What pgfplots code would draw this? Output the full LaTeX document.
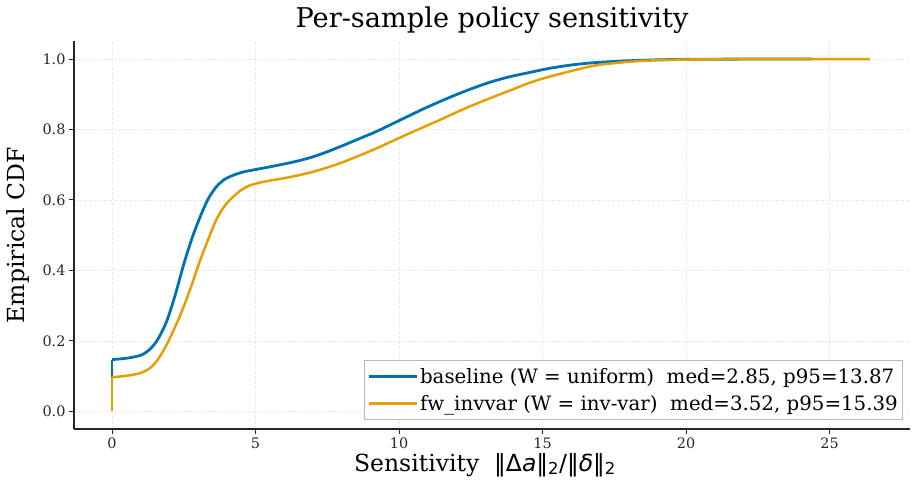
\documentclass[border=0pt]{standalone}
\usepackage{pgfplots}
\pgfplotsset{compat=1.18}
\usepackage{fontspec}
\setmainfont{DejaVu Serif}
\newfontfamily\dvs{DejaVu Sans}
\definecolor{cblue}{HTML}{0072B2}
\definecolor{corange}{HTML}{E69F00}
\definecolor{spine}{HTML}{262626}
\begin{document}
\begin{tikzpicture}
\path[use as bounding box] (0,0) rectangle (912bp,488bp);
\begin{axis}[
  at={(74bp,59bp)}, anchor=south west,
  scale only axis, width=836bp, height=387.6bp,
  xmin=-1.325, xmax=27.8, ymin=-0.05, ymax=1.05,
  axis x line*=bottom, axis y line*=left,
  axis line style={spine, line width=1.1bp, -},
  tick align=outside, major tick length=5bp,
  tick style={spine, line width=1bp},
  xtick={0,5,10,15,20,25}, ytick={0,0.2,0.4,0.6,0.8,1.0},
  /pgf/number format/assume math mode=true,
  yticklabel style={/pgf/number format/fixed, /pgf/number format/fixed zerofill, /pgf/number format/precision=1},
  ticklabel style={font=\fontsize{14.4bp}{16bp}\selectfont, color=spine},
  grid=major, grid style={densely dashed, gray!18, line width=0.7bp},
  title={Per-sample policy sensitivity},
  title style={font=\fontsize{27.2bp}{31bp}\selectfont, yshift=-2bp},
  xlabel={Sensitivity\ \ {\dvs ‖Δ\textit{a}‖\textsubscript{2}/‖\textit{δ}‖\textsubscript{2}}},
  ylabel={Empirical CDF},
  label style={font=\fontsize{23.5bp}{26bp}\selectfont},
  xlabel style={yshift=2bp, xshift=-7bp},
  ylabel style={yshift=6bp},
  legend style={at={(0.992,0.023)}, anchor=south east, draw=gray!55, line width=1bp,
    font=\fontsize{19.8bp}{24bp}\selectfont, inner xsep=3bp, inner ysep=6bp, row sep=6bp,
    cells={anchor=west}, /tikz/every even column/.style={column sep=3bp}},
  legend cell align=left,
  legend image code/.code={\draw[#1] (0bp,0bp) -- (40bp,0bp); \path (0bp,0bp) -- (48bp,0bp);},
]
\addplot[color=cblue, line width=2.8bp, forget plot] coordinates {(0,0) (0,0.147)};
\addplot[color=cblue, line width=2.8bp, smooth, tension=0.5] coordinates {
(0,0.147) (0.3,0.149) (0.6,0.152) (0.9,0.157) (1.1,0.163) (1.34,0.178) (1.6,0.205)
(1.9,0.255) (2.2,0.33) (2.49,0.415) (2.78,0.49) (3.07,0.552) (3.35,0.603) (3.64,0.638)
(3.93,0.659) (4.22,0.670) (4.6,0.680) (5.37,0.692) (6.28,0.707) (6.9,0.720) (7.44,0.735)
(8.0,0.753) (8.59,0.773) (9.2,0.794) (9.74,0.815) (10.3,0.837) (10.89,0.86) (11.5,0.882)
(12.03,0.90) (12.6,0.918) (13.2,0.935) (13.87,0.95) (14.56,0.962) (15.2,0.973) (16.0,0.983)
(16.86,0.990) (18.0,0.995) (19.16,0.998) (20.5,0.9993) (22,0.9998) (23.2,1.0) (24.4,1.0)
};
\addlegendentry{baseline (W = uniform)\ \ med=2.85, p95=13.87}
\addplot[color=corange, line width=2.5bp, forget plot] coordinates {(0,0) (0,0.097)};
\addplot[color=corange, line width=2.5bp, smooth, tension=0.5] coordinates {
(0,0.097) (0.5,0.101) (1.0,0.109) (1.34,0.124) (1.62,0.150) (1.92,0.192) (2.2,0.24)
(2.49,0.296) (2.78,0.36) (3.07,0.429) (3.35,0.488) (3.64,0.545) (3.93,0.584) (4.22,0.609)
(4.5,0.628) (4.79,0.641) (5.3,0.652) (5.94,0.661) (6.5,0.670) (7.0,0.680) (7.5,0.692)
(8.0,0.706) (8.59,0.725) (9.2,0.746) (9.74,0.766) (10.3,0.787) (10.89,0.808) (11.5,0.83)
(12.03,0.85) (12.6,0.87) (13.3,0.893) (14.0,0.915) (14.56,0.933) (15.2,0.949) (16.0,0.966)
(16.86,0.982) (18.0,0.992) (19.16,0.997) (20.5,0.9990) (22,0.9997) (23.5,1.0) (25,1.0) (26.4,1.0)
};
\addlegendentry{fw\_invvar (W = inv-var)\ \ med=3.52, p95=15.39}
\end{axis}
\end{tikzpicture}
\end{document}
